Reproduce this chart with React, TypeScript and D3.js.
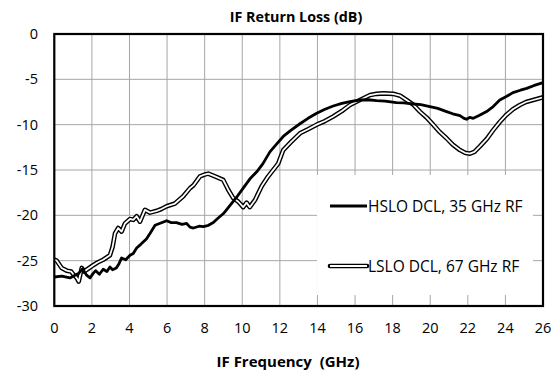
import React from "react";
import * as d3 from "d3";

const xTicks = [0, 2, 4, 6, 8, 10, 12, 14, 16, 18, 20, 22, 24, 26];
const yTicks = [0, -5, -10, -15, -20, -25, -30];

const hsloFreq = [0, 0.4, 0.83, 1.1, 1.3, 1.5, 1.72, 1.9, 2.07, 2.2, 2.4, 2.6, 2.8, 2.96, 3.1, 3.3, 3.45, 3.58, 3.8, 4.03, 4.2, 4.38, 4.6, 4.9, 5.09, 5.36, 5.6, 5.98, 6.2, 6.5, 6.8, 7.04, 7.22, 7.4, 7.7, 7.93, 8.2, 8.46, 8.72, 9.0, 9.35, 9.7, 10.05, 10.4, 10.77, 11.1, 11.47, 11.8, 12.18, 12.6, 13.07, 13.5, 13.96, 14.4, 14.84, 15.3, 15.73, 16.26, 16.7, 17.15, 17.6, 18.2, 18.6, 19.1, 19.5, 19.98, 20.4, 20.87, 21.2, 21.58, 21.8, 21.94, 22.1, 22.29, 22.6, 23.0, 23.35, 23.7, 24.05, 24.4, 24.8, 25.13, 25.5, 26.0];
const hsloVal = [-26.8, -26.7, -26.9, -26.6, -26.4, -25.9, -26.6, -26.9, -26.4, -26.1, -26.5, -25.95, -26.2, -25.7, -26.0, -25.8, -25.3, -24.7, -24.9, -24.4, -24.2, -23.6, -23.2, -22.6, -22.0, -21.1, -20.9, -20.6, -20.8, -20.8, -21.0, -20.9, -21.3, -21.4, -21.2, -21.25, -21.1, -20.8, -20.3, -19.8, -18.9, -18.0, -17.0, -16.0, -15.2, -14.3, -13.0, -12.2, -11.3, -10.6, -9.9, -9.3, -8.75, -8.3, -7.94, -7.65, -7.46, -7.28, -7.25, -7.35, -7.4, -7.57, -7.6, -7.72, -7.8, -8.0, -8.2, -8.56, -8.8, -9.0, -9.3, -9.4, -9.2, -9.3, -9.0, -8.56, -8.0, -7.28, -6.9, -6.47, -6.2, -6.0, -5.7, -5.37];

const lsloFreq = [0, 0.13, 0.39, 0.66, 0.9, 1.01, 1.19, 1.3, 1.46, 1.6, 1.72, 2.07, 2.3, 2.6, 2.96, 3.1, 3.23, 3.4, 3.58, 3.76, 4.03, 4.2, 4.38, 4.56, 4.82, 5.09, 5.45, 5.7, 5.98, 6.42, 6.86, 7.22, 7.4, 7.75, 8.0, 8.19, 8.55, 8.99, 9.26, 9.52, 9.79, 10.05, 10.23, 10.4, 10.68, 11.03, 11.38, 11.91, 12.18, 12.6, 13.07, 13.5, 13.96, 14.4, 14.84, 15.3, 15.73, 16.26, 16.8, 17.15, 17.5, 18.03, 18.4, 18.74, 19.1, 19.45, 19.8, 20.16, 20.5, 20.87, 21.2, 21.58, 21.85, 22.11, 22.35, 22.64, 23.0, 23.35, 23.7, 24.06, 24.4, 24.77, 25.1, 25.48, 26.0];
const lsloVal = [-24.9, -25.0, -25.8, -26.1, -26.2, -26.5, -26.9, -27.3, -25.8, -26.2, -26.0, -25.5, -25.2, -24.9, -24.4, -23.5, -22.0, -21.4, -21.8, -20.9, -20.4, -20.5, -20.1, -20.7, -19.4, -19.7, -19.5, -19.3, -19.0, -18.7, -17.9, -17.0, -16.7, -15.7, -15.5, -15.4, -15.7, -16.1, -17.2, -18.1, -18.5, -19.1, -18.6, -19.1, -18.3, -16.8, -15.7, -14.3, -12.8, -11.9, -10.95, -10.5, -10.0, -9.6, -9.1, -8.5, -7.83, -7.28, -6.73, -6.6, -6.55, -6.6, -6.8, -7.28, -7.8, -8.56, -9.2, -10.0, -10.8, -11.5, -12.2, -12.8, -13.1, -13.2, -13.0, -12.4, -11.6, -10.6, -9.7, -8.9, -8.3, -7.83, -7.5, -7.28, -6.98];

const legendLabels = ["HSLO DCL, 35 GHz RF", "LSLO DCL, 67 GHz RF"];

export default function App() {
  const W = 559, H = 372;
  const m = { l: 54.3, r: 543, t: 34, b: 306 };
  const x = d3.scaleLinear().domain([0, 26]).range([m.l, m.r]);
  const y = d3.scaleLinear().domain([-30, 0]).range([m.b, m.t]);
  const line = d3.line<[number, number]>().x(d => x(d[0])).y(d => y(d[1])).curve(d3.curveLinear);
  const hslo = line(hsloFreq.map((f, i) => [f, hsloVal[i]] as [number, number])) || "";
  const lslo = line(lsloFreq.map((f, i) => [f, lsloVal[i]] as [number, number])) || "";
  const font = "'Open Sans', 'Noto Sans', sans-serif";
  const lg = { x0: 317, x1: 533, y0: 175, y1: 295 };
  return (
    <svg width={W} height={H} style={{ position: "absolute", left: 0, top: 0 }} fontFamily={font}>
      <rect x={0} y={0} width={W} height={H} fill="#fff" />
      {xTicks.map(t => (
        <line key={"gx" + t} x1={x(t)} x2={x(t)} y1={m.t} y2={m.b} stroke="#a6a6a6" strokeWidth={1} />
      ))}
      {yTicks.map(t => (
        <line key={"gy" + t} x1={m.l} x2={m.r} y1={y(t)} y2={y(t)} stroke="#a6a6a6" strokeWidth={1} />
      ))}
      <path d={lslo} fill="none" stroke="#000" strokeWidth={4.6} strokeLinejoin="round" />
      <path d={lslo} fill="none" stroke="#fff" strokeWidth={1.8} strokeLinejoin="round" />
      <path d={hslo} fill="none" stroke="#000" strokeWidth={2.8} strokeLinejoin="round" />
      <rect x={lg.x0} y={lg.y0} width={lg.x1 - lg.x0} height={lg.y1 - lg.y0} fill="#fff" />
      <line x1={330} x2={367} y1={206} y2={206} stroke="#000" strokeWidth={2.8} />
      <text x={368} y={211.5} fontSize={15.5}>{legendLabels[0]}</text>
      <line x1={330} x2={367} y1={266} y2={266} stroke="#000" strokeWidth={4.6} strokeLinecap="round" />
      <line x1={330} x2={367} y1={266} y2={266} stroke="#fff" strokeWidth={1.8} />
      <text x={368} y={271.5} fontSize={15.5}>{legendLabels[1]}</text>
      <rect x={m.l} y={m.t} width={m.r - m.l} height={m.b - m.t} fill="none" stroke="#000" strokeWidth={2.2} />
      {yTicks.map(t => (
        <text key={"ty" + t} x={38} y={y(t) + 5} textAnchor="end" fontSize={14.5}>{t}</text>
      ))}
      {xTicks.map(t => (
        <text key={"tx" + t} x={x(t)} y={333} textAnchor="middle" fontSize={14.5}>{t}</text>
      ))}
      <text x={296} y={21.5} textAnchor="middle" fontSize={14.3} fontWeight="bold">IF Return Loss (dB)</text>
      <text x={288} y={367} textAnchor="middle" fontSize={15} fontWeight="bold" xmlSpace="preserve">IF Frequency  (GHz)</text>
    </svg>
  );
}
